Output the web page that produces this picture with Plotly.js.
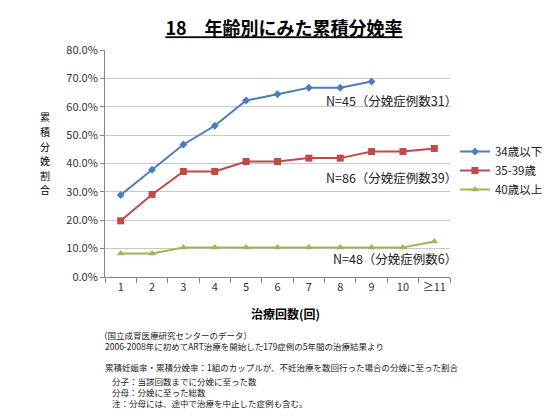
<!DOCTYPE html>
<html>
<head>
<meta charset="utf-8">
<script src="https://cdn.plot.ly/plotly-3.0.1.min.js"></script>
<style>html,body{margin:0;padding:0;background:#fff;}#chart{width:560px;height:420px;}</style>
</head>
<body>
<div id="chart"></div>
<script>
// ---- data ----
var categories = ["1","2","3","4","5","6","7","8","9","10","≥11"];
var seriesNames = ["34歳以下","35-39歳","40歳以上"];
var under34 = [0.289, 0.378, 0.467, 0.533, 0.622, 0.644, 0.667, 0.667, 0.689, null, null];
var age35to39 = [0.198, 0.291, 0.372, 0.372, 0.407, 0.407, 0.419, 0.419, 0.442, 0.442, 0.453];
var over40 = [0.083, 0.083, 0.104, 0.104, 0.104, 0.104, 0.104, 0.104, 0.104, 0.104, 0.125];
var noteLabels = ["N=45（分娩症例数31）","N=86（分娩症例数39）","N=48（分娩症例数6）"];
var titleText = "18　年齢別にみた累積分娩率";
var xTitle = "治療回数(回)";
var yTitle = "累積分娩割合";
var footLines = [
  "（国立成育医療研究センターのデータ）",
  "2006-2008年に初めてART治療を開始した179症例の5年間の治療結果より",
  "累積妊娠率・累積分娩率：1組のカップルが、不妊治療を数回行った場合の分娩に至った割合",
  "分子：当該回数までに分娩に至った数",
  "分母：分娩に至った総数",
  "注：分母には、途中で治療を中止した症例も含む。"
];

// ---- layout helpers (pixel -> paper) ----
var L = 105, R = 452, T = 50, B = 277;
function px(x){ return (x - L) / (R - L); }
function py(y){ return (B - y) / (B - T); }
var FONT = "Noto Sans CJK JP, Noto Sans, sans-serif";

var traces = [
  {x: categories, y: under34, name: seriesNames[0], type: "scatter", mode: "lines+markers",
   line: {color: "#4A7EBB", width: 2}, marker: {symbol: "diamond", size: 6, color: "#4A7EBB"}},
  {x: categories, y: age35to39, name: seriesNames[1], type: "scatter", mode: "lines+markers",
   line: {color: "#BE4B48", width: 2}, marker: {symbol: "square", size: 7, color: "#BE4B48"}},
  {x: categories, y: over40, name: seriesNames[2], type: "scatter", mode: "lines+markers",
   line: {color: "#98B954", width: 2}, marker: {symbol: "triangle-up", size: 7, color: "#98B954"}}
];

var annotations = [
  {text: noteLabels[0], x: px(461), y: py(100)},
  {text: noteLabels[1], x: px(461), y: py(177)},
  {text: noteLabels[2], x: px(461), y: py(258)}
].map(function(a){
  return {text: a.text, x: a.x, y: a.y, xref: "paper", yref: "paper", xanchor: "right", yanchor: "middle",
          showarrow: false, font: {family: FONT, size: 12.5, color: "#222"}};
});

annotations.push({text: xTitle, x: px(287), y: py(313), xref: "paper", yref: "paper",
  xanchor: "center", yanchor: "middle", showarrow: false,
  font: {family: FONT, size: 12, color: "#000", weight: "bold"}});

// vertical y-axis title, one character per annotation
var yChars = yTitle.split("");
yChars.forEach(function(ch, i){
  annotations.push({text: ch, x: px(45), y: py(117 + i * 14.5), xref: "paper", yref: "paper",
    xanchor: "center", yanchor: "middle", showarrow: false,
    font: {family: FONT, size: 10, color: "#000"}});
});

var footPos = [[97,335],[103,346],[103,367],[110,381],[110,392],[110,403]];
footLines.forEach(function(t, i){
  annotations.push({text: t, x: px(footPos[i][0]), y: py(footPos[i][1]), xref: "paper", yref: "paper",
    xanchor: "left", yanchor: "middle", showarrow: false,
    font: {family: FONT, size: 8.5, color: "#222"}});
});

var layout = {
  width: 560, height: 420,
  margin: {l: L, r: 560 - R, t: T, b: 420 - B, pad: 0},
  paper_bgcolor: "#fff", plot_bgcolor: "#fff",
  font: {family: FONT, color: "#333"},
  title: {text: "<u>" + titleText + "</u>", x: 284/560, xref: "container", xanchor: "center",
          y: 1 - 29/420, yref: "container", yanchor: "middle",
          font: {family: FONT, size: 18, color: "#000", weight: "bold"}},
  xaxis: {type: "category", tickson: "boundaries", ticks: "outside", ticklen: 5, tickcolor: "#868686",
          showline: true, linecolor: "#868686", linewidth: 1, showgrid: false, zeroline: false,
          tickangle: 0, automargin: false,
          tickfont: {family: FONT, size: 11, color: "#333"}, range: [-0.5, 10.5], fixedrange: true},
  yaxis: {range: [0, 0.8], dtick: 0.1, tick0: 0, tickformat: ".1%", ticks: "outside", ticklen: 4,
          tickcolor: "#868686", showline: true, linecolor: "#868686", linewidth: 1,
          showgrid: true, gridcolor: "#C8C8C8", gridwidth: 1, zeroline: false,
          tickfont: {family: FONT, size: 11, color: "#333"}, fixedrange: true},
  showlegend: true,
  legend: {x: px(457), xanchor: "left", y: py(137), yanchor: "top", bgcolor: "rgba(0,0,0,0)",
           itemwidth: 30, font: {family: FONT, size: 11.5, color: "#222"}, tracegroupgap: 0},
  annotations: annotations
};

Plotly.newPlot("chart", traces, layout, {displayModeBar: false, staticPlot: true});
</script>
</body>
</html>
